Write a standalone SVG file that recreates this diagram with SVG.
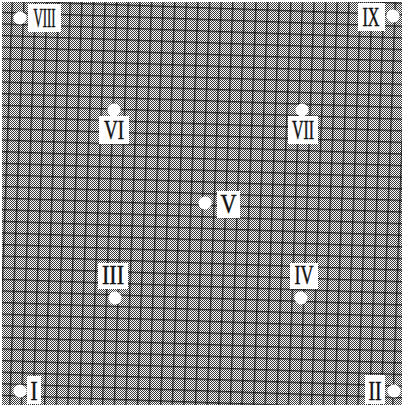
<svg xmlns="http://www.w3.org/2000/svg" width="404" height="407" viewBox="0 0 404 407">
  <defs>
    <pattern id="fine" width="2" height="2" patternUnits="userSpaceOnUse">
      <rect width="2" height="2" fill="#ffffff"/>
      <rect width="1" height="1" fill="#3a3a3a"/>
      <rect x="1" y="1" width="1" height="1" fill="#3a3a3a"/>
    </pattern>
    <pattern id="grid" width="11.6" height="11.6" patternUnits="userSpaceOnUse" patternTransform="rotate(2)">
      <rect x="0" y="0" width="11.6" height="1.4" fill="#000000" fill-opacity="0.7"/>
      <rect x="0" y="0" width="1.4" height="11.6" fill="#000000" fill-opacity="0.7"/>
    </pattern>
  </defs>
  <style>
    .dot { fill: #ffffff; }
    .box { fill: #ffffff; }
    .lbl { font-family: "Liberation Serif", "Times New Roman", serif; font-size: 27px; fill: #111111; stroke: #111111; stroke-width: 0.5; text-anchor: middle; }
  </style>
  <rect x="0" y="0" width="404" height="407" fill="#ffffff"/>
  <rect x="2" y="2" width="400" height="403" fill="url(#fine)"/>
  <rect x="2" y="2" width="400" height="403" fill="url(#grid)"/>
  <g id="connectors"/>
  <g id="node-VIII">
    <circle class="dot" cx="20" cy="18" r="6.5"/>
    <rect class="box" x="28" y="4" width="33" height="28"/>
    <text class="lbl" x="44.5" y="27" textLength="22" lengthAdjust="spacingAndGlyphs">VIII</text>
  </g>
  <g id="node-IX">
    <circle class="dot" cx="393" cy="16" r="6.5"/>
    <rect class="box" x="358" y="3" width="27" height="28"/>
    <text class="lbl" x="371" y="26" textLength="17" lengthAdjust="spacingAndGlyphs">IX</text>
  </g>
  <g id="node-VI">
    <circle class="dot" cx="114" cy="110" r="6.5"/>
    <rect class="box" x="99" y="116" width="30" height="28"/>
    <text class="lbl" x="114" y="139" textLength="20" lengthAdjust="spacingAndGlyphs">VI</text>
  </g>
  <g id="node-VII">
    <circle class="dot" cx="302" cy="110" r="6.5"/>
    <rect class="box" x="288" y="116" width="30" height="28"/>
    <text class="lbl" x="303" y="139" textLength="22" lengthAdjust="spacingAndGlyphs">VII</text>
  </g>
  <g id="node-V">
    <circle class="dot" cx="205" cy="203" r="6.5"/>
    <rect class="box" x="217" y="191" width="23" height="27"/>
    <text class="lbl" x="228.5" y="213" textLength="16" lengthAdjust="spacingAndGlyphs">V</text>
  </g>
  <g id="node-III">
    <rect class="box" x="98" y="263" width="30" height="26"/>
    <text class="lbl" x="113" y="284" textLength="22" lengthAdjust="spacingAndGlyphs">III</text>
    <circle class="dot" cx="115" cy="298" r="6.5"/>
  </g>
  <g id="node-IV">
    <rect class="box" x="290" y="263" width="28" height="26"/>
    <text class="lbl" x="304" y="284" textLength="19" lengthAdjust="spacingAndGlyphs">IV</text>
    <circle class="dot" cx="301" cy="298" r="6.5"/>
  </g>
  <g id="node-I">
    <circle class="dot" cx="20" cy="391" r="6.5"/>
    <rect class="box" x="27" y="376" width="14" height="28"/>
    <text class="lbl" x="34" y="400" textLength="7" lengthAdjust="spacingAndGlyphs">I</text>
  </g>
  <g id="node-II">
    <rect class="box" x="365" y="375" width="20" height="29"/>
    <text class="lbl" x="375" y="400" textLength="13" lengthAdjust="spacingAndGlyphs">II</text>
    <circle class="dot" cx="394" cy="391" r="6.5"/>
  </g>
</svg>
